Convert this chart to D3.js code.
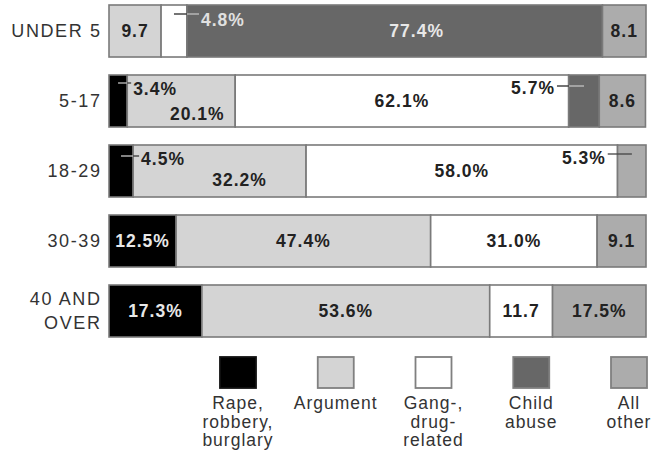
<!DOCTYPE html>
<html><head><meta charset="utf-8">
<script src="https://cdn.jsdelivr.net/npm/d3@7"></script>
<style>
html,body{margin:0;padding:0;background:#fff;}
svg{display:block;}
text{font-family:"Liberation Sans",Arial,Helvetica,sans-serif;}
</style></head>
<body>
<svg id="chart" width="654" height="462"></svg>
<script>
// ---- data ----
const categories = ["UNDER 5", "5-17", "18-29", "30-39", "40 AND OVER"];
const seriesNames = ["Rape, robbery, burglary", "Argument", "Gang-, drug-related", "Child abuse", "All other"];
const legendLines = [["Rape,", "robbery,", "burglary"], ["Argument"], ["Gang-,", "drug-", "related"], ["Child", "abuse"], ["All", "other"]];
const rape     = [0,    3.4,  4.5,  12.5, 17.3];
const argument = [9.7,  20.1, 32.2, 47.4, 53.6];
const gang     = [4.8,  62.1, 58.0, 31.0, 11.7];
const child    = [77.4, 5.7,  0,    0,    0];
const other    = [8.1,  8.6,  5.3,  9.1,  17.5];
const rapeLabels     = ["", "3.4%", "4.5%", "12.5%", "17.3%"];
const argumentLabels = ["9.7", "20.1%", "32.2%", "47.4%", "53.6%"];
const gangLabels     = ["4.8%", "62.1%", "58.0%", "31.0%", "11.7"];
const childLabels    = ["77.4%", "5.7%", "", "", ""];
const otherLabels    = ["8.1", "8.6", "5.3%", "9.1", "17.5%"];

// ---- styles ----
const fills = ["#000000", "#d4d4d4", "#ffffff", "#676767", "#acacac"];
const darkSeg = [true, false, false, true, false];
const textFills = ["#e8e8e8", "#222", "#222", "#e8e8e8", "#222"];
// label placement tweaks keyed "row-series" (layout, not data)
const place = {
  "0-2": {callout: "right", len: 25, ly: 9, ty: 15},
  "0-3": {dx: 22},
  "1-0": {callout: "right", len: 13, ly: 8, ty: 14},
  "1-1": {dx: 16, ty: 39},
  "1-3": {callout: "left", len: 27, ly: 11, ty: 13},
  "2-0": {callout: "right", len: 18, ly: 11, ty: 14},
  "2-1": {dx: 20, ty: 35},
  "2-4": {callout: "left", len: 24, ly: 9, ty: 13}
};
const valueFont = {size: 17.5, spacing: 1};

const rows = categories.map((c, i) => ({
  cat: c,
  vals: [rape[i], argument[i], gang[i], child[i], other[i]],
  labels: [rapeLabels[i], argumentLabels[i], gangLabels[i], childLabels[i], otherLabels[i]]
}));

const svg = d3.select("#chart");
const x = d3.scaleLinear().domain([0, 100]).range([109, 646]);
const y = d3.scaleBand().domain(categories).range([5, 337]).paddingInner(0.257).paddingOuter(0);
const bw = y.bandwidth();

rows.forEach((r, i) => {
  const top = y(r.cat);
  let acc = 0;
  const segs = r.vals.map((v, s) => { const o = {s, v, x0: acc, x1: Math.min(acc + v, 100), label: r.labels[s]}; acc += v; return o; })
    .filter(d => d.v > 0);
  const g = svg.append("g");
  g.selectAll("rect").data(segs).join("rect")
    .attr("x", d => x(d.x0)).attr("y", top)
    .attr("width", d => x(d.x1) - x(d.x0)).attr("height", bw)
    .attr("fill", d => fills[d.s]).attr("stroke", "#7a7a7a").attr("stroke-width", 1.6);

  // which segment lies under a pixel x
  const segAt = px => segs.find(d => px >= x(d.x0) && px <= x(d.x1));

  segs.forEach(d => {
    if (!d.label) return;
    const p = place[i + "-" + d.s] || {};
    const cx = (x(d.x0) + x(d.x1)) / 2;
    if (p.callout) {
      const dir = p.callout === "right" ? 1 : -1;
      const x2 = cx + dir * p.len;
      const ly = top + p.ly;
      // draw the leader in 1px pieces so its colour contrasts with what is under it
      const a = Math.min(cx, x2), b = Math.max(cx, x2);
      for (let px = a; px < b; px += 1) {
        const under = segAt(px + 0.5);
        const dark = under && darkSeg[under.s];
        g.append("line").attr("x1", px).attr("x2", Math.min(px + 1, b))
          .attr("y1", ly).attr("y2", ly)
          .attr("stroke", dark ? "#b8b8b8" : "#444").attr("stroke-width", 1.3);
      }
      const under = segAt(x2 + dir * 6);
      const onDark = under && darkSeg[under.s];
      g.append("text").attr("x", x2 + dir * 2).attr("y", top + p.ty)
        .attr("dy", "0.35em")
        .attr("text-anchor", dir === 1 ? "start" : "end")
        .attr("font-size", valueFont.size).attr("font-weight", "bold")
        .attr("letter-spacing", valueFont.spacing)
        .attr("fill", onDark ? "#e0e0e0" : "#222")
        .text(d.label);
    } else {
      g.append("text").attr("x", cx + (p.dx || 0)).attr("y", top + (p.ty || bw / 2))
        .attr("dy", "0.35em").attr("text-anchor", "middle")
        .attr("font-size", valueFont.size).attr("font-weight", "bold")
        .attr("letter-spacing", valueFont.spacing)
        .attr("fill", textFills[d.s])
        .text(d.label);
    }
  });

  // category label
  const words = r.cat === "40 AND OVER" ? ["40 AND", "OVER"] : [r.cat];
  const lab = svg.append("text").attr("text-anchor", "end")
    .attr("font-size", 18).attr("letter-spacing", 1.6).attr("fill", "#333");
  words.forEach((w, k) => {
    lab.append("tspan").attr("x", 101.5)
      .attr("y", top + bw / 2 + (k - (words.length - 1) / 2) * 24)
      .attr("dy", "0.35em").text(w);
  });
});

// legend
const lx = d3.scalePoint().domain(seriesNames).range([238, 629]);
const lg = svg.append("g").selectAll("g").data(seriesNames).join("g")
  .attr("transform", d => `translate(${lx(d)},0)`);
lg.append("rect").attr("x", -18).attr("y", 357).attr("width", 36).attr("height", 31)
  .attr("fill", (d, i) => fills[i]).attr("stroke", (d, i) => i === 0 ? "#111" : "#808080").attr("stroke-width", 1.8);
lg.append("text").attr("text-anchor", "middle").attr("font-size", 17.5).attr("letter-spacing", 1).attr("fill", "#333")
  .each(function(d, i) {
    const t = d3.select(this);
    legendLines[i].forEach((ln, k) => {
      t.append("tspan").attr("x", 0).attr("y", 409 + k * 18.5).text(ln);
    });
  });
</script>
</body></html>
